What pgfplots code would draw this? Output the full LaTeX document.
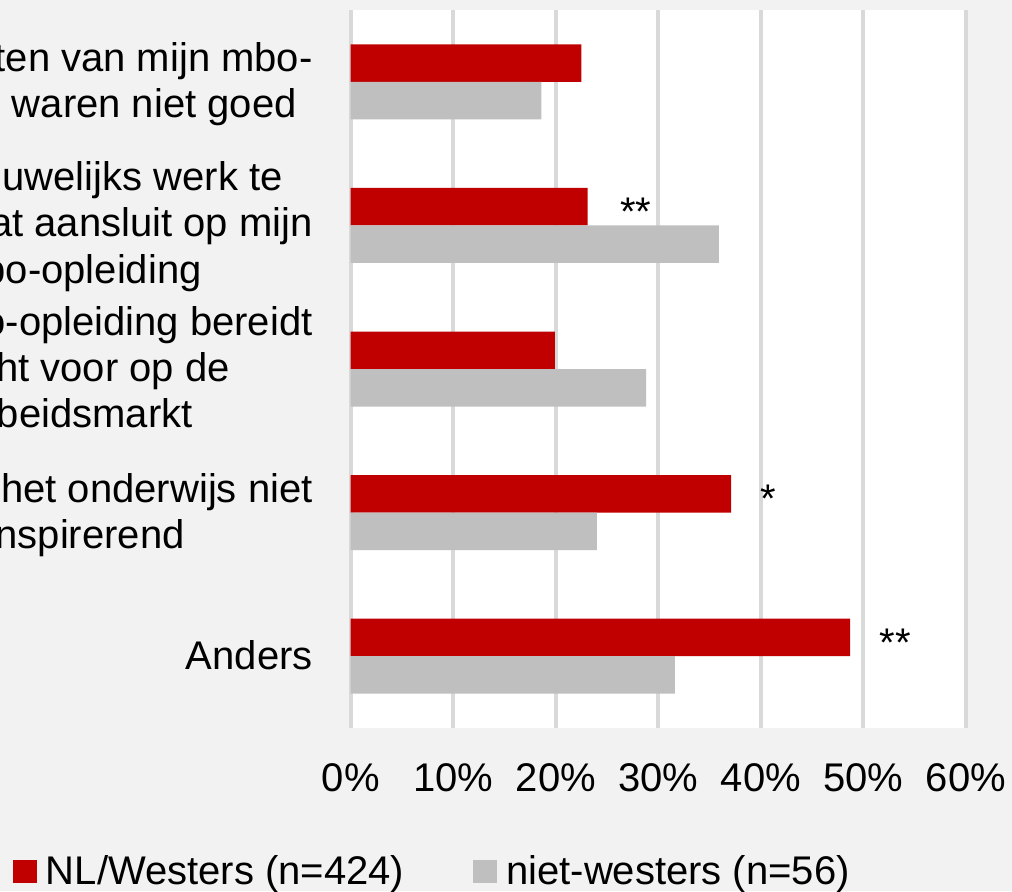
\documentclass[border=0pt]{standalone}
\usepackage{fontspec}
\setmainfont{Liberation Sans}
\usepackage{pgfplots}
\pgfplotsset{compat=1.18}
\definecolor{nlred}{HTML}{C00000}
\definecolor{nwgray}{HTML}{BFBFBF}
\definecolor{gridgray}{HTML}{D9D9D9}
\definecolor{bggray}{HTML}{F2F2F2}
\newcommand{\ff}{\fontsize{20pt}{23pt}\selectfont}
\begin{document}
\begin{tikzpicture}[font=\ff]
\useasboundingbox (0,0) rectangle (506pt,445.5pt);
\fill[bggray] (0,0) rectangle (506pt,445.5pt);
\begin{scope}
\clip (0,0) rectangle (506pt,445.5pt);
\begin{axis}[
  at={(175.35pt,81.5pt)}, anchor=south west,
  scale only axis, width=307.65pt, height=359pt,
  xmin=0, xmax=60, ymin=-0.5, ymax=4.5,
  xbar, bar width=18.75pt,
  axis background/.style={fill=white},
  axis line style={draw=none},
  xmajorgrids, major grid style={draw=gridgray, line width=2pt},
  xtick={0,10,20,30,40,50,60},
  xticklabels={0\%,10\%,20\%,30\%,40\%,50\%,60\%},
  ytick=\empty,
  major tick length=0pt,
  xticklabel style={anchor=base, yshift=-31.5pt, font=\ff},
  legend columns=2,
  legend style={draw=none, fill=none, inner sep=0pt, outer sep=0pt,
    at={(-0.549,-0.1999)}, anchor=west, cells={anchor=center},
    nodes={inner sep=0pt, font=\ff},
    /tikz/every odd column/.append style={column sep=4.5pt},
    /tikz/every even column/.append style={column sep=34.5pt}},
  legend image code/.code={\fill[#1] (0pt,-5.75pt) rectangle (12pt,5.75pt);},
]
\addplot[fill=nlred, draw=none, bar shift=9.375pt] coordinates {(22.5,4) (23.1,3) (19.9,2) (37.1,1) (48.7,0)};
\addlegendentry{NL/Westers (n=424)}
\addplot[fill=nwgray, draw=none, bar shift=-9.375pt] coordinates {(18.6,4) (35.9,3) (28.8,2) (24.0,1) (31.6,0)};
\addlegendentry{niet-westers (n=56)}
\node[anchor=base, font=\ff] at (axis cs:27.8,3) {**};
\node[anchor=base, font=\ff] at (axis cs:40.7,1) {*};
\node[anchor=base, font=\ff] at (axis cs:53.1,0) {**};
\end{axis}
\begin{scope}[every node/.style={inner sep=0pt, font=\ff, anchor=base east}]
\node at (156.5pt,409.5pt) {ten van mijn mbo-};
\node at (148.5pt,386.5pt) {waren niet goed};
\node at (141.5pt,350pt) {uwelijks werk te};
\node at (156.5pt,327pt) {at aansluit op mijn};
\node at (101pt,304pt) {bo-opleiding};
\node at (156.5pt,278pt) {o-opleiding bereidt};
\node at (115pt,255pt) {ht voor op de};
\node at (96.5pt,232pt) {beidsmarkt};
\node at (156.5pt,194.5pt) {het onderwijs niet};
\node at (92.5pt,171.5pt) {nspirerend};
\node at (156.5pt,111pt) {Anders};
\end{scope}
\end{scope}
\end{tikzpicture}
\end{document}
